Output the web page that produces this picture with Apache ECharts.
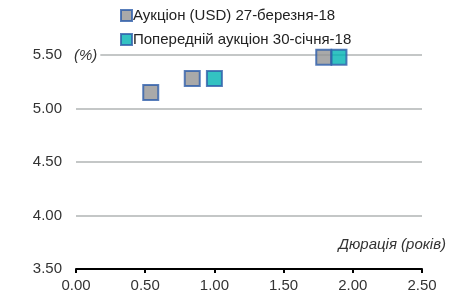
<!DOCTYPE html>
<html><head><meta charset="utf-8">
<script src="https://cdn.jsdelivr.net/npm/echarts@6/dist/echarts.min.js"></script>
<style>html,body{margin:0;padding:0;background:#fff}#c{width:459px;height:296px}</style>
</head><body><div id="c"></div>
<script>
const seriesNames = ['Аукціон (USD) 27-березня-18', 'Попередній аукціон 30-січня-18'];
const auctionNow = [[0.54, 5.15], [0.84, 5.28], [1.79, 5.48]];
const auctionPrev = [[1.00, 5.28], [1.90, 5.48]];
const xTicks = { min: 0, max: 2.5, interval: 0.5 };
const yTicks = { min: 3.5, max: 5.5, interval: 0.5 };
const xTitle = 'Дюрація (років)';
const yTitle = '(%)';

const font = '"Liberation Sans Narrow","Arial Narrow","Liberation Sans",sans-serif';
const chart = echarts.init(document.getElementById('c'), null, {renderer: 'canvas'});
const border = '#2E5EAA';
chart.setOption({
  animation: false,
  textStyle: {fontFamily: font},
  grid: {left: 76, right: 37, top: 55, bottom: 27, containLabel: false},
  legend: {
    orient: 'vertical', left: 115, top: 3, itemGap: 9, itemWidth: 11, itemHeight: 11,
    icon: 'rect',
    textStyle: {fontFamily: font, fontSize: 15, color: '#222', padding: [0,0,0,-4]},
    data: seriesNames
  },
  xAxis: {
    type: 'value', min: xTicks.min, max: xTicks.max, interval: xTicks.interval,
    axisLine: {show: true, lineStyle: {color: '#000', width: 2}},
    axisTick: {show: true, length: 4, lineStyle: {color: '#000', width: 2}},
    splitLine: {show: false},
    axisLabel: {fontFamily: font, fontSize: 15, color: '#333', margin: 9,
      formatter: v => v.toFixed(2)}
  },
  yAxis: {
    type: 'value', min: yTicks.min, max: yTicks.max, interval: yTicks.interval,
    axisLine: {show: false}, axisTick: {show: false},
    splitLine: {show: true, lineStyle: {color: '#C4C7C7', width: 2}},
    axisLabel: {fontFamily: font, fontSize: 15, color: '#333', margin: 14,
      formatter: v => v.toFixed(2)}
  },
  graphic: [
    {type: 'text', left: 72, top: 48, z: 10, style: {text: yTitle, fontFamily: font, fontStyle: 'italic', fontSize: 15, fill: '#333', backgroundColor: '#fff', padding: [0, 3, 0, 2]}},
    {type: 'text', right: 13, top: 237, z: 10, style: {text: xTitle, fontFamily: font, fontStyle: 'italic', fontSize: 15, fill: '#333'}}
  ],
  series: [
    {name: seriesNames[0], type: 'scatter', symbol: 'rect', symbolSize: 15, data: auctionNow,
      itemStyle: {color: '#939393', borderColor: border, borderWidth: 2}},
    {name: seriesNames[1], type: 'scatter', symbol: 'rect', symbolSize: 15, data: auctionPrev,
      itemStyle: {color: '#00B3B3', borderColor: border, borderWidth: 2}}
  ]
});
</script></body></html>
